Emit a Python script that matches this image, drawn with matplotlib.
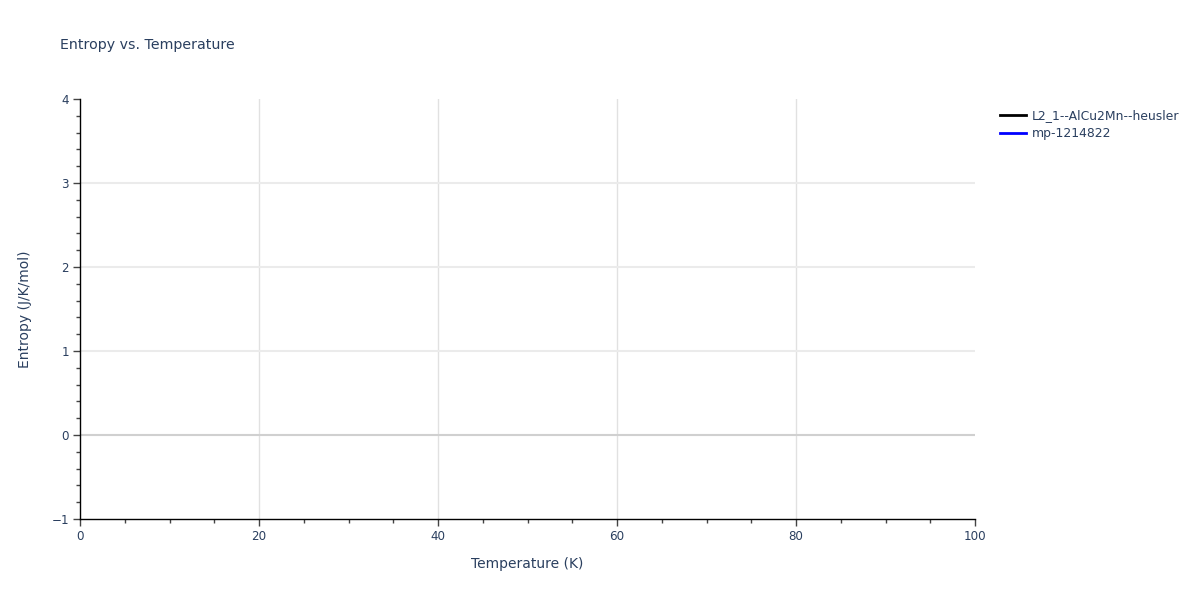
import matplotlib
matplotlib.use("Agg")
import matplotlib.pyplot as plt
from matplotlib.ticker import MultipleLocator

# data: neither series has points inside the visible range
series_names = ["L2_1--AlCu2Mn--heusler", "mp-1214822"]
series_colors = ["black", "blue"]
temperature = [[], []]
entropy = [[], []]

x_ticks = [0, 20, 40, 60, 80, 100]
y_ticks = [-1, 0, 1, 2, 3, 4]

txt = "#2a3f5f"
plt.rcParams["font.family"] = ["DejaVu Sans"]

fig = plt.figure(figsize=(12, 6), dpi=100)
ax = fig.add_axes([80 / 1200, 81 / 600, 895 / 1200, 420 / 600])

lines = []
for t, s, name, c in zip(temperature, entropy, series_names, series_colors):
    (ln,) = ax.plot(t, s, color=c, lw=2, label=name)
    lines.append(ln)

ax.set_xlim(0, 100)
ax.set_ylim(-1, 4)
ax.set_xticks(x_ticks)
ax.set_yticks(y_ticks)
ax.xaxis.set_minor_locator(MultipleLocator(5))
ax.yaxis.set_minor_locator(MultipleLocator(0.2))
ax.tick_params(which="major", length=5, width=1, color="#444444",
               labelsize=8.6, labelcolor=txt, pad=3)
ax.tick_params(which="minor", length=3, width=1, color="#444444")

# grid
for x in x_ticks[1:-1]:
    ax.axvline(x, color="#e1e1e1", lw=1, zorder=0)
for y in y_ticks[2:-1]:
    ax.axhline(y, color="#ebebeb", lw=1.5, zorder=0)
ax.axhline(0, color="#d0d0d0", lw=1.5, zorder=0)

for side in ("top", "right"):
    ax.spines[side].set_visible(False)
for side in ("left", "bottom"):
    ax.spines[side].set_color("black")
    ax.spines[side].set_linewidth(1)

ax.set_xlabel("Temperature (K)", fontsize=10, color=txt, labelpad=10)
ax.set_ylabel("Entropy (J/K/mol)", fontsize=10, color=txt, labelpad=14)

fig.text(60 / 1200, 1 - 45 / 600, "Entropy vs. Temperature", fontsize=10.2,
         color=txt, va="center", ha="left")

fig.legend(handles=lines, loc="upper left", bbox_to_anchor=(995 / 1200, 1 - 104 / 600),
           frameon=False, fontsize=8.9, labelcolor=txt, handlelength=2.1,
           handletextpad=0.5, labelspacing=0.4, borderaxespad=0)

fig.savefig("out.png", dpi=100)
